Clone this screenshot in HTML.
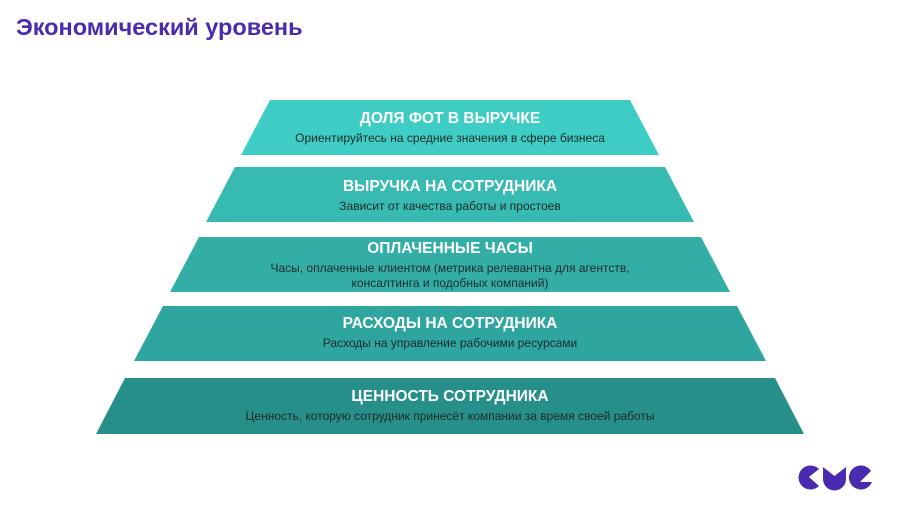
<!DOCTYPE html>
<html><head><meta charset="utf-8"><style>
body{margin:0;width:900px;height:514px;background:#fff;position:relative;overflow:hidden;font-family:"Liberation Sans",sans-serif}
.t{position:absolute;left:16px;top:14px;font-size:23.5px;font-weight:bold;color:#4a2bb0}
.l{position:absolute;left:0;width:900px;text-align:center}
.h{color:#fff;font-weight:bold;font-size:15.5px}
.s{color:#1e2a2a;font-size:12px;line-height:15px}
</style></head><body>
<div class="t">Экономический уровень</div>
<svg width="900" height="514" style="position:absolute;left:0;top:0">
<polygon points="270,100 630,100 659,155 241,155" fill="#3ecdc4"/>
<polygon points="235,167 665,167 694,222 206,222" fill="#37bab2"/>
<polygon points="199,237 701,237 730,292 170,292" fill="#32aea7"/>
<polygon points="163,306 737,306 766,361 134,361" fill="#2ea59f"/>
<polygon points="125,378 775,378 804,434 96,434" fill="#278f89"/>
<g fill="#4a2bb0">
<path d="M819 469 A12 12 0 1 0 819 486 L809 477 Z"/>
<path d="M823 467 L823 479 A11.5 11.5 0 0 0 846 479 L846 467 L834.5 476 Z"/>
<path d="M871 471 A12 12 0 1 0 872 482 L860 482 Z"/>
</g>
</svg>
<div class="l h" style="top:110px">ДОЛЯ ФОТ В ВЫРУЧКЕ</div>
<div class="l s" style="top:131px">Ориентируйтесь на средние значения в сфере бизнеса</div>
<div class="l h" style="top:178px">ВЫРУЧКА НА СОТРУДНИКА</div>
<div class="l s" style="top:199px">Зависит от качества работы и простоев</div>
<div class="l h" style="top:240px">ОПЛАЧЕННЫЕ ЧАСЫ</div>
<div class="l s" style="top:261px">Часы, оплаченные клиентом (метрика релевантна для агентств,<br>консалтинга и подобных компаний)</div>
<div class="l h" style="top:315px">РАСХОДЫ НА СОТРУДНИКА</div>
<div class="l s" style="top:336px">Расходы на управление рабочими ресурсами</div>
<div class="l h" style="top:388px">ЦЕННОСТЬ СОТРУДНИКА</div>
<div class="l s" style="top:409px">Ценность, которую сотрудник принесёт компании за время своей работы</div>
</body></html>
